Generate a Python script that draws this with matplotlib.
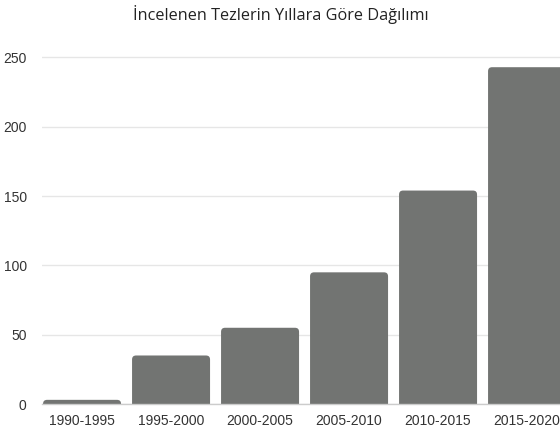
import matplotlib
matplotlib.use("Agg")
import matplotlib.pyplot as plt
from matplotlib.patches import FancyBboxPatch

categories = ["1990-1995", "1995-2000", "2000-2005", "2005-2010", "2010-2015", "2015-2020"]
values = [3, 35, 55, 95, 154, 243]
yticks = [0, 50, 100, 150, 200, 250]

W, H = 560, 433
fig = plt.figure(figsize=(W / 100, H / 100), dpi=100)
left_px, bottom_px, top_px = 42, 404, 57.5
unit_px = 89
xmin, xmax = -0.45, 5.5
right_px = left_px + (xmax - xmin) * unit_px
ypx = (bottom_px - top_px) / 250
extra = 2.0
ax = fig.add_axes([left_px / W, (H - bottom_px) / H, (right_px - left_px) / W,
                   (bottom_px - top_px + extra) / H])
ax.set_xlim(xmin, xmax)
ax.set_ylim(0, 250 + extra / ypx)

bar_color = "#727472"
bw = 78 / unit_px
r_px = 4
rx = r_px / unit_px
ry = r_px / ypx
for i, v in enumerate(values):
    x0 = i - bw / 2
    p = FancyBboxPatch((x0, -ry), bw, v + ry,
                       boxstyle=f"round,pad=0,rounding_size={rx}",
                       mutation_aspect=ry / rx,
                       facecolor=bar_color, edgecolor="none", zorder=3)
    ax.add_patch(p)

ax.set_xticks(range(len(categories)))
ax.set_xticklabels(categories)
ax.set_yticks(yticks)
ax.grid(axis="y", color="#e6e6e6", linewidth=1, zorder=0)
ax.tick_params(axis="both", length=0, labelsize=10, labelcolor="#333333",
               labelfontfamily="Liberation Sans")
ax.tick_params(axis="y", pad=11)
ax.tick_params(axis="x", pad=7)
for s in ["top", "right", "left"]:
    ax.spines[s].set_visible(False)
ax.spines["bottom"].set_color("#cccccc")
ax.spines["bottom"].set_linewidth(1)
ax.spines["bottom"].set_zorder(4)

fig.text(281 / W, 1 - 15 / H, "İncelenen Tezlerin Yıllara Göre Dağılımı",
         ha="center", va="center", fontsize=11.7, color="#222222", family="Open Sans")

fig.savefig("out.png", dpi=100)
